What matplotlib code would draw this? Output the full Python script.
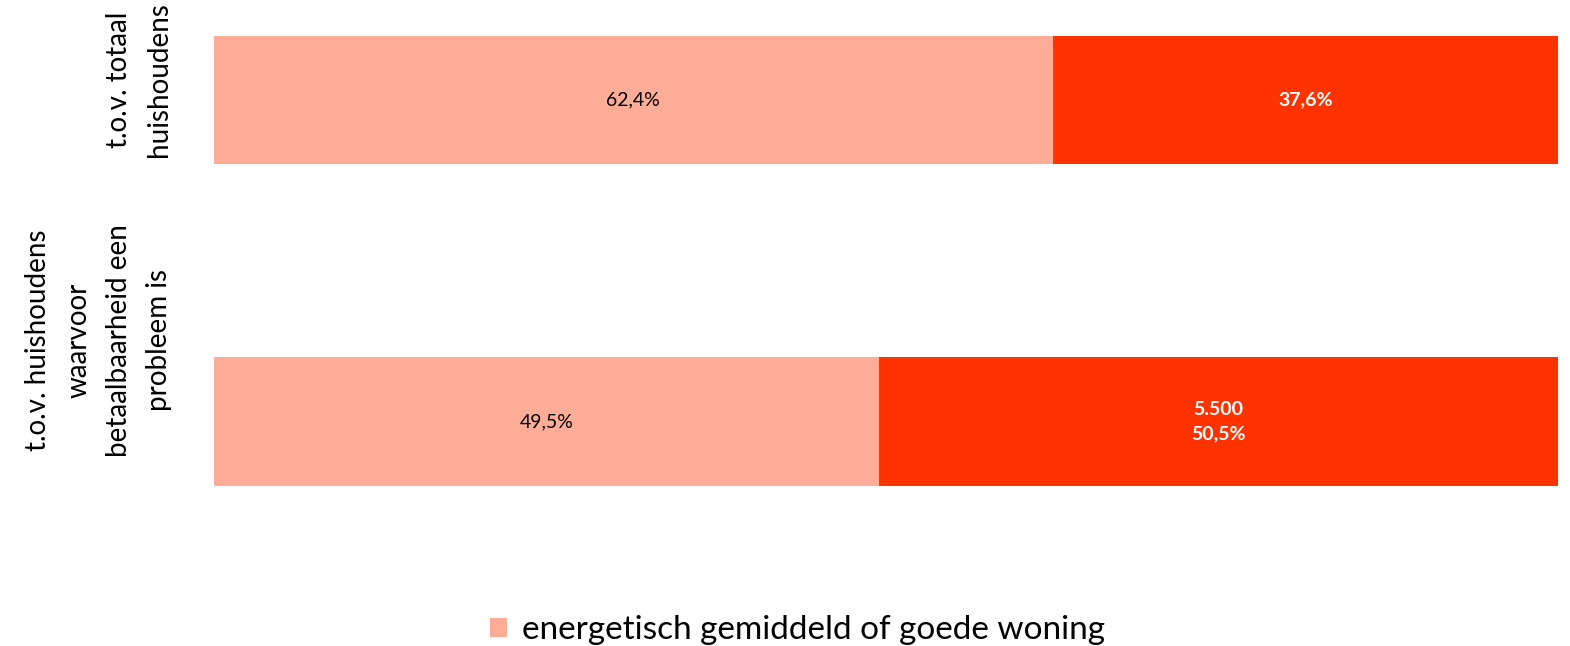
import numpy as np
import matplotlib.pyplot as plt
import matplotlib.transforms as mtransforms

# categorieën en waarden (percentages)
categories = ['t.o.v. totaal\nhuishoudens',
              't.o.v. huishoudens\nwaarvoor\nbetaalbaarheid een\nprobleem is']
series_names = ['energetisch gemiddeld of goede woning', 'energetisch slechte woning']
goed = [62.4, 49.5]
slecht = [37.6, 50.5]
labels_goed = ['62,4%', '49,5%']
labels_slecht = ['37,6%', '5.500\n50,5%']

kleur_goed = '#FFAD97'
kleur_slecht = '#FF3300'

plt.rcParams['font.family'] = ['Lato', 'DejaVu Sans']

fig = plt.figure(figsize=(15.7, 6.46), dpi=100)
ax = fig.add_axes([214 / 1570, 86 / 646, 1344 / 1570, 560 / 646])

y = np.arange(len(categories))
b1 = ax.barh(y, goed, height=0.4, color=kleur_goed, label=series_names[0])
b2 = ax.barh(y, slecht, left=goed, height=0.4, color=kleur_slecht, label=series_names[1])

ax.bar_label(b1, labels=labels_goed, label_type='center', fontsize=14, color='black')
ax.bar_label(b2, labels=labels_slecht, label_type='center', fontsize=14,
             color='white', fontweight='bold', linespacing=1.55)

ax.set_xlim(0, 100)
ax.set_ylim(1.431, -0.311)
ax.set_xticks([])
ax.set_yticks([])
for s in ax.spines.values():
    s.set_visible(False)

# categorie-labels, gedraaid
trans = mtransforms.blended_transform_factory(ax.transAxes, ax.transData)
offsets = [-0.062, -0.253]
for i, cat in enumerate(categories):
    ax.text(-0.031, y[i] + offsets[i], cat, transform=trans, rotation=90,
            ha='right', va='center', multialignment='center',
            fontsize=20, linespacing=1.68)

# alleen de eerste legenda-regel past binnen de figuur
fig.legend(handles=[b1], labels=series_names[:1], loc='upper center',
           bbox_to_anchor=(0.508, 0.094), ncol=1, frameon=False,
           fontsize=24, handlelength=0.5, handleheight=0.5, handletextpad=0.45)

fig.savefig('out.png', dpi=100)
